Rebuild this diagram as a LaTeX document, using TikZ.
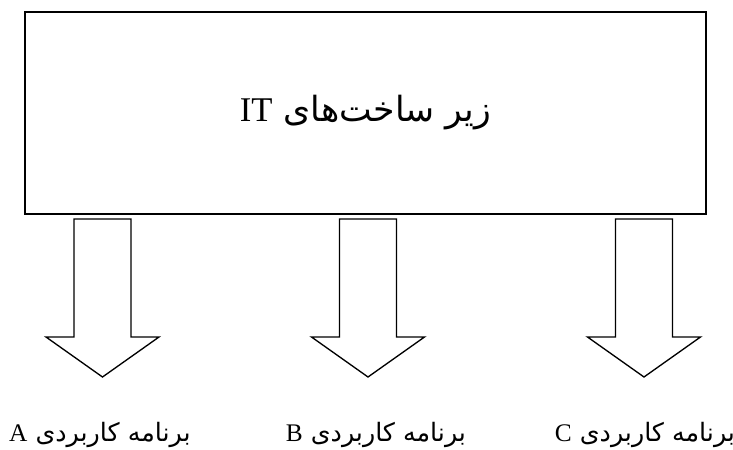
\documentclass[tikz,border=0pt]{standalone}
\usepackage{fontspec}
\setmainfont{Liberation Serif}
\newfontfamily\arabicfont[Script=Arabic]{DejaVu Sans}
\TeXXeTstate=1
\usetikzlibrary{positioning,calc}

\tikzset{
  infrabox/.style={draw, line width=1.2pt, minimum width=510.75pt, minimum height=151.5pt, inner sep=0pt, font=\fontsize{26}{30}\selectfont},
  blockarrow/.style={draw, line width=1pt, line join=miter},
  applabel/.style={font=\fontsize{19}{23}\selectfont, inner sep=0pt},
}

\begin{document}
\begin{tikzpicture}[x=0.75pt, y={(0pt,-0.75pt)}]
  \useasboundingbox (0,0) rectangle (733,450);

  \node[infrabox] (infra) at (365.5,113) {\raisebox{-3pt}{\arabicfont\beginR زیر ساخت‌های \rmfamily\beginL IT\endL\endR}};

  \coordinate (a0) at (102.5,219);
  \coordinate (b0) at (368,219);
  \coordinate (c0) at (644,219);

  \draw[blockarrow] ($(a0)+(-28.5,0)$) -- ++(57,0) -- ++(0,118) -- ++(28,0) -- ($(a0)+(0,158)$) -- ++(-56.5,-40) -- ++(28,0) -- cycle;
  \draw[blockarrow] ($(b0)+(-28.5,0)$) -- ++(57,0) -- ++(0,118) -- ++(28,0) -- ($(b0)+(0,158)$) -- ++(-56.5,-40) -- ++(28,0) -- cycle;
  \draw[blockarrow] ($(c0)+(-28.5,0)$) -- ++(57,0) -- ++(0,118) -- ++(28,0) -- ($(c0)+(0,158)$) -- ++(-56.5,-40) -- ++(28,0) -- cycle;

  \node[applabel] (appA) at (100,435) {\arabicfont\beginR برنامه کاربردی \rmfamily A\endR};
  \node[applabel] (appB) at (376,435) {\arabicfont\beginR برنامه کاربردی \rmfamily B\endR};
  \node[applabel] (appC) at (645,435) {\arabicfont\beginR برنامه کاربردی \rmfamily C\endR};

\end{tikzpicture}
\end{document}
